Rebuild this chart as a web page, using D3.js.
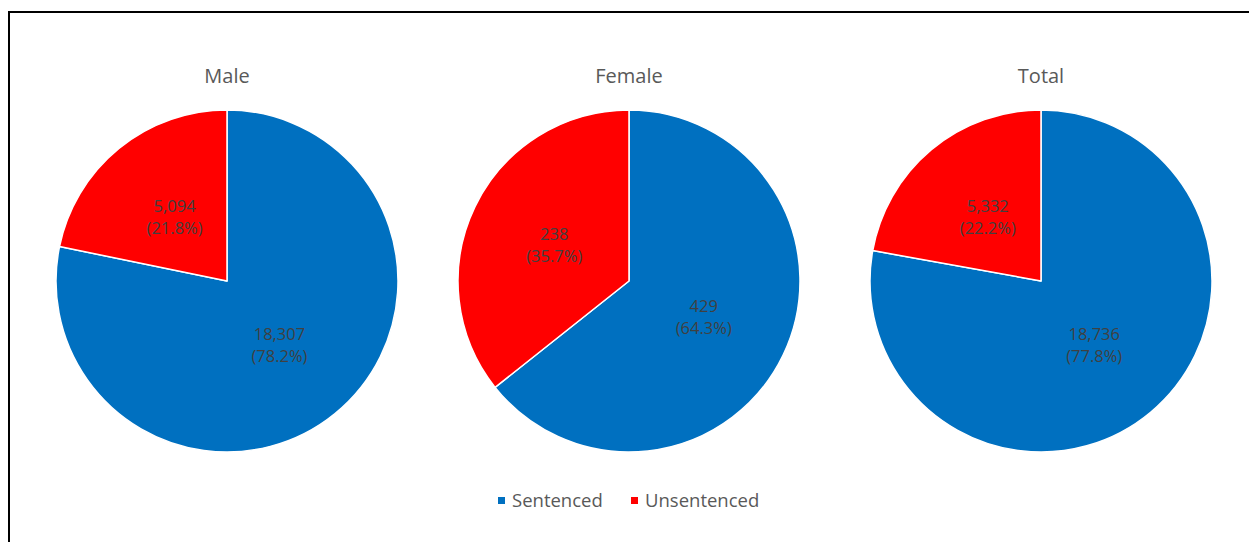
<!DOCTYPE html>
<html>
<head>
<meta charset="utf-8">
<script src="https://cdn.jsdelivr.net/npm/d3@7"></script>
<style>
  html, body { margin: 0; padding: 0; background: #fff; }
  svg { display: block; }
</style>
</head>
<body>
<svg id="chart" width="1249" height="542"></svg>
<script>
const categories = ["Male", "Female", "Total"];
const seriesNames = ["Sentenced", "Unsentenced"];
const sentenced = [18307, 429, 18736];
const unsentenced = [5094, 238, 5332];
const colors = ["#0070C0", "#FF0000"];

const svg = d3.select("#chart");
const font = "'Open Sans', 'Liberation Sans', sans-serif";

// frame
svg.append("rect")
  .attr("x", 9).attr("y", 12)
  .attr("width", 1260).attr("height", 560)
  .attr("fill", "none").attr("stroke", "#000").attr("stroke-width", 2);

const cx = d3.scaleOrdinal().domain(categories).range([227, 629, 1041]);
const cy = 281;
const R = 171;
const color = d3.scaleOrdinal().domain(seriesNames).range(colors);

const pie = d3.pie().sort(null).value(d => d.value);
const arc = d3.arc().innerRadius(0).outerRadius(R);
const labelArc = d3.arc().innerRadius(83).outerRadius(83);
const fmt = d3.format(",");

categories.forEach((cat, i) => {
  const vals = [
    {name: seriesNames[0], value: sentenced[i]},
    {name: seriesNames[1], value: unsentenced[i]}
  ];
  const total = d3.sum(vals, d => d.value);
  const g = svg.append("g").attr("transform", `translate(${cx(cat)},${cy})`);
  const arcs = pie(vals);
  g.selectAll("path").data(arcs).join("path")
    .attr("d", arc)
    .attr("fill", d => color(d.data.name))
    .attr("stroke", "#fff").attr("stroke-width", 1.5)
    .attr("stroke-linejoin", "round");
  const lbl = g.selectAll("text.lbl").data(arcs).join("text")
    .attr("class", "lbl")
    .attr("transform", d => `translate(${labelArc.centroid(d)})`)
    .attr("text-anchor", "middle")
    .attr("font-family", font).attr("font-size", 16.5)
    .attr("fill", "#404040");
  lbl.append("tspan").attr("x", 0).attr("y", -5).text(d => fmt(d.data.value));
  lbl.append("tspan").attr("x", 0).attr("y", 17)
    .text(d => "(" + (d.data.value / total * 100).toFixed(1) + "%)");
  svg.append("text")
    .attr("x", cx(cat)).attr("y", 83)
    .attr("text-anchor", "middle")
    .attr("font-family", font).attr("font-size", 20)
    .attr("fill", "#595959")
    .text(cat);
});

// legend
const legendX = d3.scaleOrdinal().domain(seriesNames).range([498, 631]);
const lg = svg.append("g");
seriesNames.forEach(s => {
  lg.append("rect")
    .attr("x", legendX(s)).attr("y", 497)
    .attr("width", 7).attr("height", 7)
    .attr("fill", color(s));
  lg.append("text")
    .attr("x", legendX(s) + 14).attr("y", 507)
    .attr("font-family", font).attr("font-size", 18.5)
    .attr("fill", "#595959")
    .text(s);
});
</script>
</body>
</html>
